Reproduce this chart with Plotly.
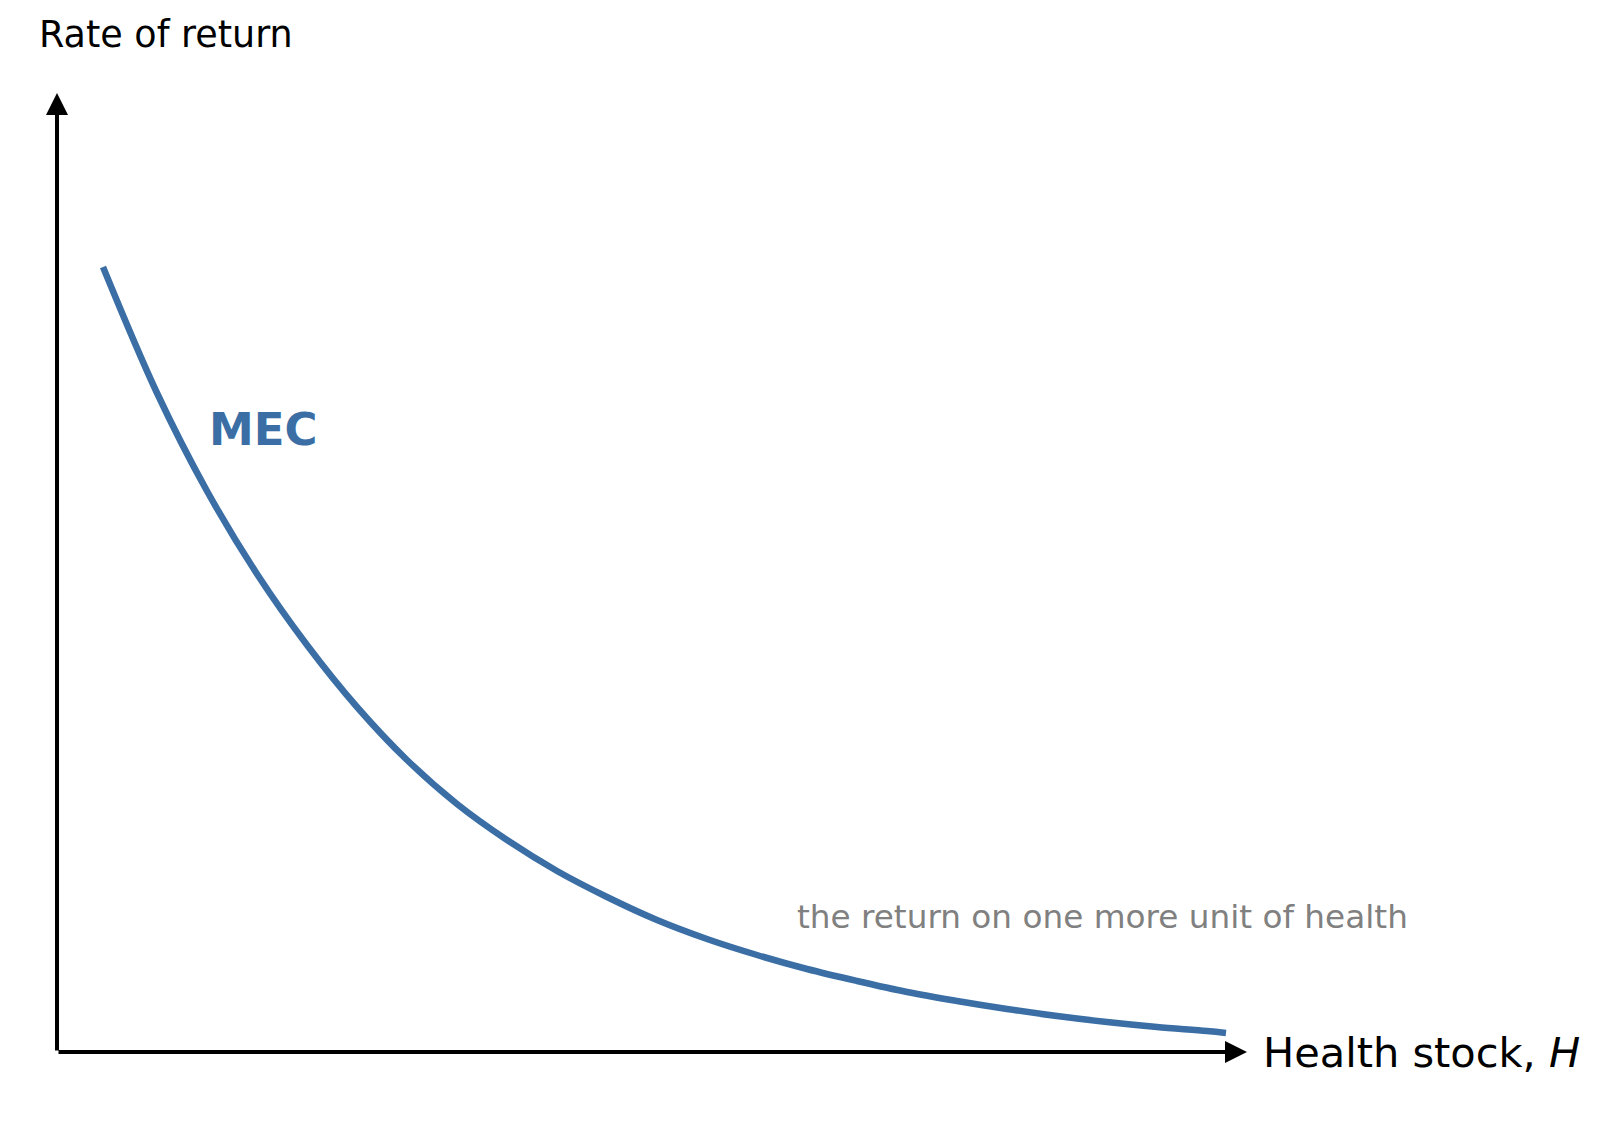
import plotly.graph_objects as go

# Health stock (H) and marginal efficiency of capital (MEC)
health_stock = [0.46, 1.0, 1.5, 2.0, 2.5, 3.0, 3.5, 4.0, 4.5, 5.0, 5.5, 6.0,
                6.5, 7.0, 7.5, 8.0, 8.5, 9.0, 9.5, 10.0, 10.5, 11.0, 11.5, 11.69]
mec_values = [7.85, 6.59, 5.61, 4.78, 4.07, 3.45, 2.92, 2.48, 2.12, 1.81, 1.55, 1.32,
              1.13, 0.97, 0.83, 0.71, 0.60, 0.51, 0.43, 0.36, 0.30, 0.25, 0.21, 0.19]

x_max = 11.90
y_max = 9.59

blue = "#3a6ea5"
font_family = "DejaVu Sans"

fig = go.Figure()
fig.add_trace(go.Scatter(
    x=health_stock, y=mec_values, mode="lines",
    line=dict(color=blue, width=6.5, shape="spline", smoothing=1.0),
    hoverinfo="skip", showlegend=False,
))

# Axes with arrowheads
fig.add_annotation(x=x_max, y=0, ax=0, ay=0, xref="x", yref="y", axref="x", ayref="y",
                   showarrow=True, arrowhead=2, arrowsize=1.1, arrowwidth=4,
                   arrowcolor="black", text="")
fig.add_annotation(x=0, y=y_max, ax=0, ay=0, xref="x", yref="y", axref="x", ayref="y",
                   showarrow=True, arrowhead=2, arrowsize=1.1, arrowwidth=4,
                   arrowcolor="black", text="")

fig.add_annotation(x=-0.017, y=1.0615, xref="paper", yref="paper", text="Rate of return",
                   showarrow=False, xanchor="left", yanchor="middle",
                   font=dict(family=font_family, size=36.5, color="black"))
fig.add_annotation(x=1.0117, y=0.0, xref="paper", yref="paper",
                   text="Health stock, <i>H</i>",
                   showarrow=False, xanchor="left", yanchor="middle",
                   font=dict(family=font_family, size=41.5, color="black"))
fig.add_annotation(x=1.50, y=6.23, xref="x", yref="y", text="<b>MEC</b>",
                   showarrow=False, xanchor="left", yanchor="middle",
                   font=dict(family=font_family, size=45, color=blue))
fig.add_annotation(x=7.38, y=1.35, xref="x", yref="y",
                   text="the return on one more unit of health",
                   showarrow=False, xanchor="left", yanchor="middle",
                   font=dict(family=font_family, size=32.7, color="#808080"))

fig.update_layout(
    width=1584, height=1130,
    margin=dict(l=49, r=345, t=85, b=86, pad=0),
    paper_bgcolor="white", plot_bgcolor="white",
    xaxis=dict(range=[0, x_max], visible=False, fixedrange=True),
    yaxis=dict(range=[0, y_max], visible=False, fixedrange=True),
    showlegend=False,
)

fig.write_html("out.html")
